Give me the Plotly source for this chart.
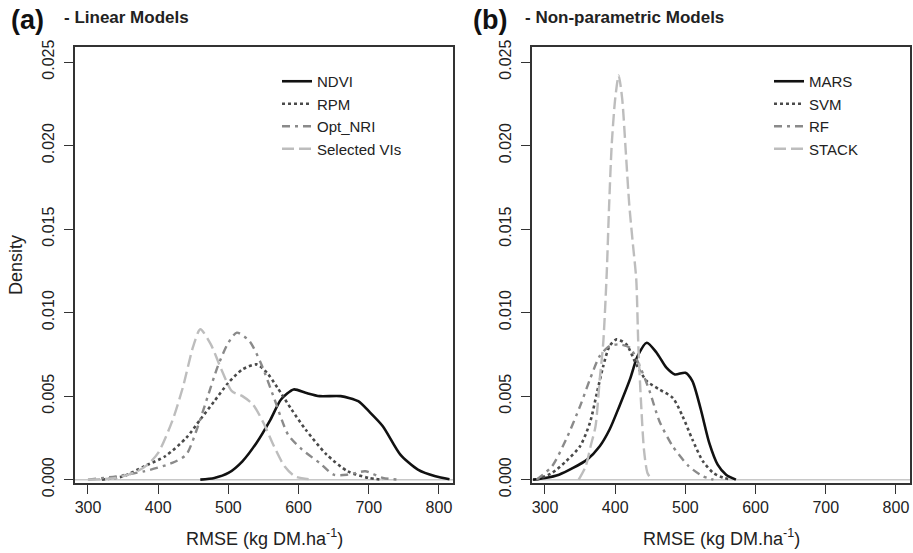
import plotly.graph_objects as go

# ---------------- Panel (a): Linear Models ----------------
ndvi_x = [460, 480, 500, 520, 540, 560, 575, 593, 610, 630, 660, 685, 700, 720, 745, 770, 795, 815]
ndvi_y = [0, 0.0001, 0.0004, 0.0011, 0.0022, 0.0036, 0.0048, 0.0054, 0.0052, 0.0050, 0.0050, 0.0047, 0.0041, 0.0032, 0.0015, 0.0006, 0.0002, 0.00003]

rpm_x = [320, 350, 380, 410, 440, 460, 480, 500, 520, 540, 555, 570, 590, 610, 640, 670, 700, 720]
rpm_y = [0, 0.0002, 0.0008, 0.0014, 0.0025, 0.0036, 0.0047, 0.0058, 0.0066, 0.0069, 0.0064, 0.0055, 0.0042, 0.0030, 0.0015, 0.0005, 0.0001, 0]

nri_x = [300, 340, 380, 420, 440, 455, 470, 485, 500, 512, 530, 546, 565, 585, 605, 630, 650, 670, 695, 720, 745]
nri_y = [0, 0.0002, 0.0005, 0.0010, 0.0015, 0.0030, 0.0049, 0.0068, 0.0082, 0.0088, 0.0083, 0.0070, 0.0049, 0.0027, 0.0018, 0.0010, 0.0003, 0.0003, 0.0005, 0.0001, 0]

svi_x = [300, 340, 370, 385, 400, 420, 435, 450, 460, 475, 490, 505, 520, 535, 550, 565, 580, 595, 620]
svi_y = [0, 0.0001, 0.0005, 0.0009, 0.0016, 0.0035, 0.0055, 0.0080, 0.0090, 0.0081, 0.0066, 0.0053, 0.0050, 0.0045, 0.0034, 0.0020, 0.0008, 0.0002, 0]

# ---------------- Panel (b): Non-parametric Models ----------------
mars_x = [283, 300, 320, 340, 360, 378, 392, 406, 421, 432, 445, 459, 473, 485, 500, 510, 522, 534, 546, 558, 572]
mars_y = [0, 0.0001, 0.0003, 0.0007, 0.0012, 0.0020, 0.0030, 0.0044, 0.0060, 0.0074, 0.0082, 0.0076, 0.0067, 0.0063, 0.0064, 0.0059, 0.0042, 0.0022, 0.0009, 0.0003, 0]

svm_x = [288, 310, 330, 350, 364, 374, 383, 392, 402, 416, 430, 445, 463, 482, 496, 510, 525, 540, 555, 565]
svm_y = [0, 0.0004, 0.0011, 0.0020, 0.0034, 0.0052, 0.0068, 0.0080, 0.0084, 0.0081, 0.0069, 0.0059, 0.0054, 0.0049, 0.0038, 0.0024, 0.0011, 0.0004, 0.0001, 0]

rf_x = [288, 310, 330, 350, 364, 378, 392, 406, 421, 435, 449, 463, 482, 505, 525, 540]
rf_y = [0, 0.0008, 0.0024, 0.0044, 0.0060, 0.0074, 0.0080, 0.0081, 0.0079, 0.0068, 0.0053, 0.0035, 0.0020, 0.0008, 0.0002, 0]

stack_x = [348, 358, 365, 372, 378, 383, 388, 391, 395, 400, 405, 410, 415, 420, 425, 430, 433, 437, 441, 446, 452]
stack_y = [0, 0.0008, 0.0020, 0.0032, 0.0060, 0.0082, 0.0124, 0.0160, 0.0200, 0.0228, 0.0242, 0.0228, 0.0197, 0.0165, 0.0142, 0.0120, 0.0080, 0.0045, 0.0018, 0.0004, 0]

x_ticks = [300, 400, 500, 600, 700, 800]
y_ticks = [0.000, 0.005, 0.010, 0.015, 0.020, 0.025]
y_tick_text = ["0.000", "0.005", "0.010", "0.015", "0.020", "0.025"]

FONT = "Liberation Sans, Arial, sans-serif"
W, H = 913, 553

styles = [
    dict(color="#111111", width=2.6, dash="solid"),
    dict(color="#4a4a4a", width=2.6, dash="3px,3px"),
    dict(color="#8a8a8a", width=2.4, dash="8px,5px,3px,5px"),
    dict(color="#bdbdbd", width=2.4, dash="12px,5px"),
]

fig = go.Figure()

panel_a = [("NDVI", ndvi_x, ndvi_y), ("RPM", rpm_x, rpm_y),
           ("Opt_NRI", nri_x, nri_y), ("Selected VIs", svi_x, svi_y)]
panel_b = [("MARS", mars_x, mars_y), ("SVM", svm_x, svm_y),
           ("RF", rf_x, rf_y), ("STACK", stack_x, stack_y)]

for (name, xs, ys), st in zip(panel_a, styles):
    fig.add_trace(go.Scatter(x=xs, y=ys, name=name, mode="lines",
                             line=dict(shape="spline", smoothing=0.7, **st),
                             xaxis="x", yaxis="y", legend="legend"))
for (name, xs, ys), st in zip(panel_b, styles):
    fig.add_trace(go.Scatter(x=xs, y=ys, name=name, mode="lines",
                             line=dict(shape="spline", smoothing=0.7, **st),
                             xaxis="x2", yaxis="y2", legend="legend2"))

dom_a = [75 / W, 453 / W]
dom_b = [532 / W, 910 / W]
dom_y = [1 - 483 / H, 1 - 47 / H]
xr = [281.5, 820]
yr = [-0.0002, 0.0259]

axis_common = dict(showline=True, linecolor="#333333", linewidth=1.5, mirror=True,
                   ticks="outside", ticklen=9, tickwidth=1.3, tickcolor="#333333",
                   showgrid=False, zeroline=False,
                   tickfont=dict(family=FONT, size=16, color="#222222"))

legend_common = dict(xanchor="left", yanchor="top", bgcolor="rgba(0,0,0,0)",
                     font=dict(family=FONT, size=15, color="#222222"),
                     tracegroupgap=0, itemwidth=30)

fig.update_layout(
    width=W, height=H,
    margin=dict(l=0, r=0, t=0, b=0, autoexpand=False),
    paper_bgcolor="white", plot_bgcolor="white",
    xaxis=dict(domain=dom_a, range=xr, tickvals=x_ticks, anchor="y", **axis_common),
    yaxis=dict(domain=dom_y, range=yr, tickvals=y_ticks, ticktext=y_tick_text,
               tickangle=-90, anchor="x", ticklabelstandoff=4, **axis_common),
    xaxis2=dict(domain=dom_b, range=xr, tickvals=x_ticks, anchor="y2", **axis_common),
    yaxis2=dict(domain=dom_y, range=yr, tickvals=y_ticks, ticktext=y_tick_text,
                tickangle=-90, anchor="x2", ticklabelstandoff=4, **axis_common),
    legend=dict(x=277 / W, y=1 - 65 / H, **legend_common),
    legend2=dict(x=769 / W, y=1 - 65 / H, **legend_common),
    showlegend=True,
)

# gray zero lines (as in R density plots)
for xref, yref in [("x domain", "y"), ("x2 domain", "y2")]:
    fig.add_shape(type="line", xref=xref, yref=yref, x0=0, x1=1, y0=0, y1=0,
                  line=dict(color="#c8c8c8", width=1.5), layer="below")

ann = []
# panel titles
ann.append(dict(text="<b>(a)</b>", x=9 / W, y=1 - 20 / H, xanchor="left", yanchor="middle",
                font=dict(family=FONT, size=27, color="#111111")))
ann.append(dict(text="<b>- Linear Models</b>", x=62 / W, y=1 - 17 / H, xanchor="left", yanchor="middle",
                font=dict(family=FONT, size=17, color="#222222")))
ann.append(dict(text="<b>(b)</b>", x=471 / W, y=1 - 20 / H, xanchor="left", yanchor="middle",
                font=dict(family=FONT, size=27, color="#111111")))
ann.append(dict(text="<b>- Non-parametric Models</b>", x=523 / W, y=1 - 17 / H, xanchor="left", yanchor="middle",
                font=dict(family=FONT, size=17, color="#222222")))
# axis titles
for cx in [(dom_a[0] + dom_a[1]) / 2, (dom_b[0] + dom_b[1]) / 2]:
    ann.append(dict(text="RMSE (kg DM.ha<sup>-1</sup>)", x=cx, y=1 - 537 / H,
                    xanchor="center", yanchor="middle",
                    font=dict(family=FONT, size=18, color="#222222")))
ann.append(dict(text="Density", x=16 / W, y=1 - 265 / H, textangle=-90,
                xanchor="center", yanchor="middle",
                font=dict(family=FONT, size=18, color="#222222")))
for a in ann:
    a.update(xref="paper", yref="paper", showarrow=False)
fig.update_layout(annotations=ann)

fig.write_html("out.html", config={"displayModeBar": False},
               post_script="document.body.style.margin='0';document.body.style.overflow='hidden';")
